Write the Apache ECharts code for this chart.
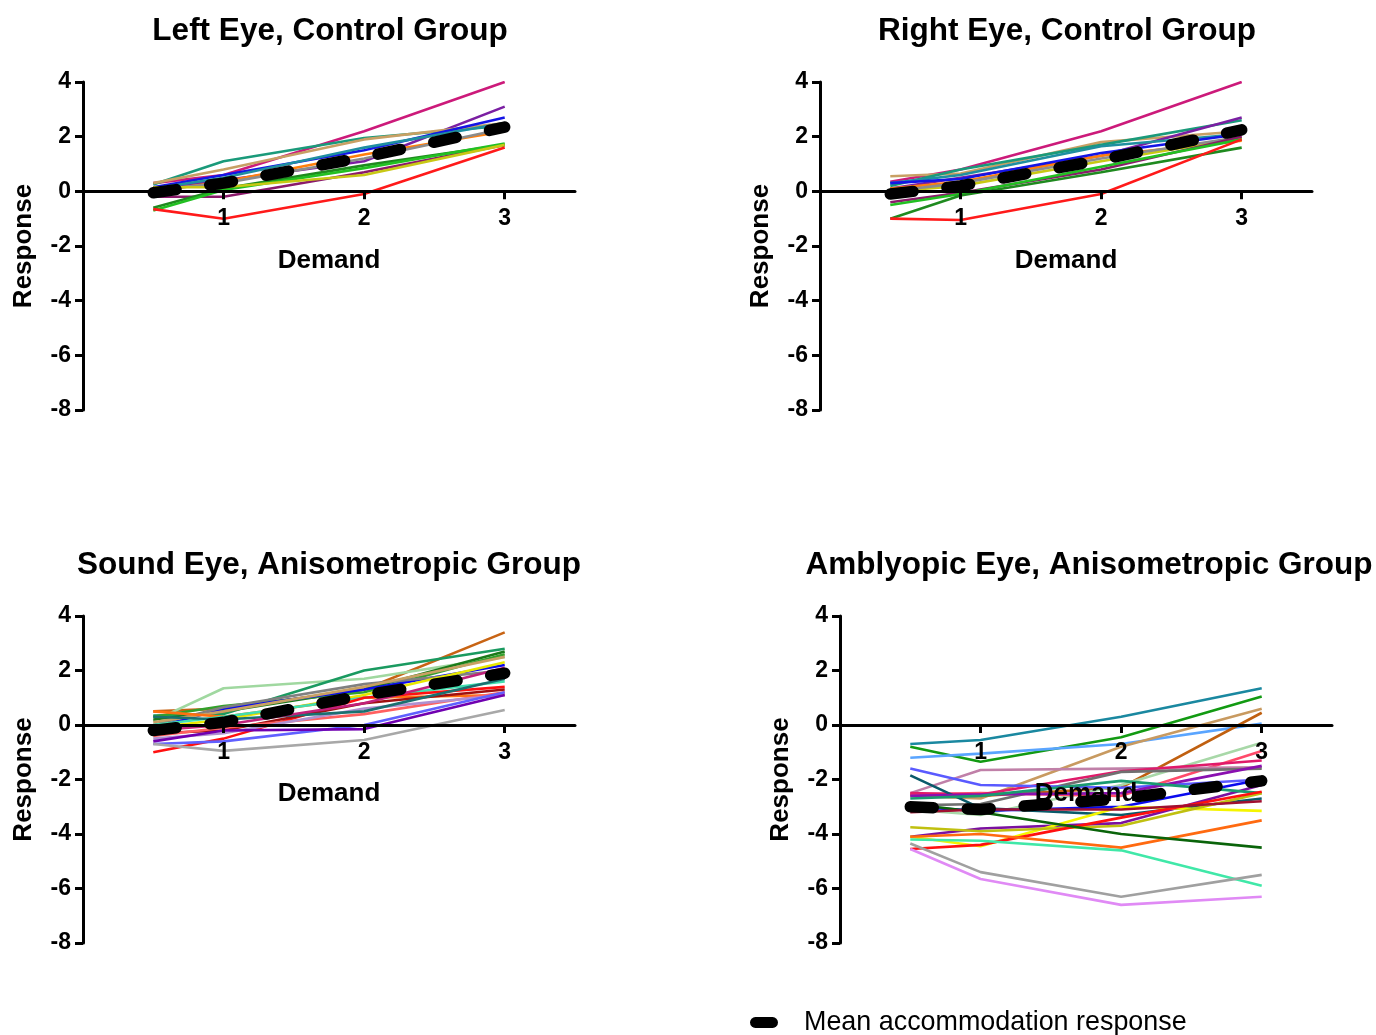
<!DOCTYPE html>
<html>
<head>
<meta charset="utf-8">
<script src="https://cdn.jsdelivr.net/npm/echarts@6/dist/echarts.min.js"></script>
<style>
html,body{margin:0;padding:0;background:#fff;}
#chart{width:1376px;height:1035px;}
</style>
</head>
<body>
<div id="chart"></div>
<script>
// ---------- data ----------
const demand = [0.5, 1, 2, 3];
const xTicks = [1, 2, 3];
const yTicks = [-8, -6, -4, -2, 0, 2, 4];
const yMin = -8, yMax = 4;

const panelTitles = [
  'Left Eye, Control Group',
  'Right Eye, Control Group',
  'Sound Eye, Anisometropic Group',
  'Amblyopic Eye, Anisometropic Group'
];
const xAxisTitle = 'Demand';
const yAxisTitle = 'Response';
const meanName = 'Mean accommodation response';

const leftEyeControl = [
  [0.3, 0.6, 2.2, 4.0],
  [0.1, 0.4, 1.1, 3.1],
  [-0.2, -0.2, 0.7, 1.7],
  [0.25, 1.1, 1.95, 2.4],
  [0.3, 0.8, 1.9, 2.5],
  [0.15, 0.6, 1.5, 2.7],
  [0.1, 0.5, 1.6, 2.5],
  [0.0, 0.35, 1.35, 2.2],
  [0.05, 0.3, 1.2, 2.3],
  [-0.6, 0.1, 0.95, 1.7],
  [-0.7, 0.05, 0.85, 1.75],
  [0.15, 0.15, 0.6, 1.7],
  [-0.65, -1.0, -0.1, 1.6]
];
const leftEyeControlMean = [-0.05, 0.3, 1.25, 2.35];

const rightEyeControl = [
  [0.35, 0.8, 2.2, 4.0],
  [0.55, 0.65, 1.8, 2.2],
  [0.2, 0.8, 1.7, 2.6],
  [0.1, 0.5, 1.3, 2.7],
  [0.3, 0.6, 1.65, 2.1],
  [0.3, 0.45, 1.4, 2.1],
  [0.1, 0.35, 1.3, 1.85],
  [0.0, 0.2, 1.1, 1.95],
  [0.0, 0.3, 1.2, 2.0],
  [-0.4, -0.05, 0.8, 2.0],
  [-0.5, -0.1, 0.9, 1.9],
  [-1.0, -0.15, 0.7, 1.6],
  [-1.0, -1.05, -0.1, 1.9]
];
const rightEyeControlMean = [-0.1, 0.2, 1.15, 2.25];

const soundEyeAniso = [
  [0.5, 0.6, 1.3, 3.4],
  [0.15, 1.35, 1.7, 2.5],
  [0.35, 0.4, 2.0, 2.8],
  [0.2, 0.5, 1.3, 2.7],
  [0.3, 0.7, 1.2, 2.6],
  [-0.1, 0.6, 1.3, 2.2],
  [0.0, 0.65, 1.5, 2.0],
  [0.1, 0.5, 1.4, 2.5],
  [-0.1, 0.2, 1.1, 2.3],
  [0.5, 0.3, 1.0, 1.1],
  [0.0, 0.3, 1.0, 1.6],
  [-1.0, -0.5, 1.0, 1.4],
  [-0.3, -0.2, 0.8, 1.3],
  [-0.4, -0.1, 0.4, 1.2],
  [-0.5, -0.3, 0.6, 1.1],
  [-0.7, -0.6, 0.0, 1.2],
  [-0.6, -0.2, -0.15, 1.1],
  [-0.7, -0.95, -0.55, 0.55],
  [0.3, 0.2, 0.5, 1.7],
  [-0.2, 0.0, 0.8, 2.1]
];
const soundEyeAnisoMean = [-0.2, 0.1, 1.1, 1.9];

const amblyopicEyeAniso = [
  [-0.7, -0.55, 0.3, 1.35],
  [-0.8, -1.35, -0.45, 1.05],
  [-1.2, -1.05, -0.7, 0.05],
  [-2.6, -2.7, -0.8, 0.6],
  [-2.55, -2.6, -2.3, 0.45],
  [-3.1, -3.3, -2.2, -0.65],
  [-2.55, -2.5, -2.6, -0.95],
  [-2.5, -1.65, -1.6, -1.55],
  [-2.5, -2.55, -1.7, -1.3],
  [-2.95, -2.9, -1.72, -1.6],
  [-1.6, -2.2, -2.3, -2.0],
  [-1.85, -3.05, -3.3, -2.7],
  [-2.6, -2.55, -2.5, -1.5],
  [-4.1, -3.8, -3.6, -2.2],
  [-3.0, -3.15, -3.0, -2.0],
  [-2.7, -2.6, -2.05, -2.5],
  [-4.1, -4.45, -3.0, -3.15],
  [-3.75, -3.9, -3.7, -2.5],
  [-4.55, -4.4, -3.4, -2.45],
  [-4.1, -4.0, -4.5, -3.5],
  [-2.9, -3.2, -4.0, -4.5],
  [-4.2, -4.25, -4.6, -5.9],
  [-4.35, -5.4, -6.3, -5.5],
  [-4.55, -5.65, -6.6, -6.3],
  [-3.2, -3.1, -3.1, -2.8]
];
const amblyopicEyeAnisoMean = [-3.0, -3.1, -2.7, -2.05];

// ---------- styles ----------
const controlColorsL = ['#cc1a7a','#7b1fa2','#8b1a6b','#1a9a7a','#c8a064','#1414e6','#1f8fa0','#ff7f0e','#8c8c8c','#1f8a1f','#22c022','#c8c814','#ff1a1a'];
const controlColorsR = ['#cc1a7a','#c8a064','#1a9a7a','#7b1fa2','#1f8fa0','#1414e6','#ff7f0e','#c8c814','#8c8c8c','#8b1a6b','#22c022','#1f8a1f','#ff1a1a'];
const soundColors = ['#c86414','#a0d8a0','#1a9a60','#1a7a1a','#33a02c','#0a0aee','#808080','#c8a064','#e8e800','#ff7010','#40e0b0','#ff1010','#a01010','#ff6060','#b090d0','#6060ff','#7000b0','#a8a8a8','#1a7070','#c0207a'];
const amblyColors = ['#1a88a0','#129a12','#5aa5ff','#c89a60','#c06010','#a8d8a8','#ff4a6a','#c080a8','#e01a6a','#707070','#5a5aff','#0a5a6a','#8a10b0','#7a10a0','#0a0aee','#1a9a70','#f5f500','#c0c010','#ff1010','#ff6a10','#0a640a','#40e8a8','#a0a0a0','#e08af5','#a01030'];

const panels = [
  {lines: leftEyeControl, mean: leftEyeControlMean, colors: controlColorsL, grid: {left: 83, top: 82, width: 492, height: 328}, titleX: 325, titleY: 10},
  {lines: rightEyeControl, mean: rightEyeControlMean, colors: controlColorsR, grid: {left: 820, top: 82, width: 492, height: 328}, titleX: 1062, titleY: 10},
  {lines: soundEyeAniso, mean: soundEyeAnisoMean, colors: soundColors, grid: {left: 83, top: 616, width: 492, height: 327}, titleX: 324, titleY: 544},
  {lines: amblyopicEyeAniso, mean: amblyopicEyeAnisoMean, colors: amblyColors, grid: {left: 840, top: 616, width: 492, height: 327}, titleX: 1084, titleY: 544}
];

const FONT = '"Liberation Sans", Arial, sans-serif';

const option = {
  animation: false,
  backgroundColor: '#fff',
  title: panels.map((p, i) => ({
    text: panelTitles[i],
    left: p.titleX,
    top: p.titleY,
    textAlign: 'center',
    textStyle: {fontFamily: FONT, fontWeight: 'bold', fontSize: 31.5, color: '#000'}
  })),
  grid: panels.map(p => Object.assign({containLabel: false}, p.grid)),
  xAxis: panels.map((p, i) => ({
    type: 'value',
    gridIndex: i,
    min: 0,
    max: 3.5,
    interval: 1,
    z: 3,
    // place the x axis where y = 0 crosses
    offset: -p.grid.height * (0 - yMin) / (yMax - yMin),
    name: xAxisTitle,
    nameLocation: 'middle',
    nameGap: 56,
    nameTextStyle: {fontFamily: FONT, fontWeight: 'bold', fontSize: 26, color: '#000'},
    axisLine: {show: true, onZero: false, lineStyle: {color: '#000', width: 3}},
    axisTick: {show: true, length: 8, lineStyle: {color: '#000', width: 3},
      customValues: xTicks},
    axisLabel: {show: true, margin: 16, fontFamily: FONT, fontWeight: 'bold', fontSize: 23, color: '#000',
      customValues: xTicks,
      formatter: v => (xTicks.indexOf(v) >= 0 ? String(v) : '')},
    splitLine: {show: false}
  })),
  yAxis: panels.map((p, i) => ({
    type: 'value',
    gridIndex: i,
    min: yMin,
    max: yMax,
    interval: 2,
    name: yAxisTitle,
    nameLocation: 'middle',
    nameGap: 46,
    nameTextStyle: {fontFamily: FONT, fontWeight: 'bold', fontSize: 26, color: '#000'},
    axisLine: {show: true, onZero: false, lineStyle: {color: '#000', width: 3}},
    axisTick: {show: true, length: 8, lineStyle: {color: '#000', width: 3}},
    axisLabel: {show: true, margin: 12, fontFamily: FONT, fontWeight: 'bold', fontSize: 23, color: '#000',
      formatter: v => (yTicks.indexOf(v) >= 0 ? String(v) : '')},
    splitLine: {show: false}
  })),
  legend: {
    left: 745,
    top: 1004,
    data: [{name: meanName, icon: 'path://M5,0 H21 A5,5 0 0 1 21,10 H5 A5,5 0 0 1 5,0 Z'}],
    itemWidth: 28,
    itemHeight: 11,
    selectedMode: false,
    textStyle: {fontFamily: FONT, fontSize: 26.9, color: '#000', padding: [0, 0, 0, 21]}
  },
  series: []
};

panels.forEach((p, i) => {
  p.lines.forEach((arr, j) => {
    option.series.push({
      type: 'line',
      xAxisIndex: i,
      yAxisIndex: i,
      data: demand.map((d, k) => [d, arr[k]]),
      symbol: 'none',
      silent: true,
      z: 2,
      lineStyle: {color: p.colors[j % p.colors.length], width: 2.6}
    });
  });
  option.series.push({
    name: meanName,
    type: 'line',
    xAxisIndex: i,
    yAxisIndex: i,
    data: demand.map((d, k) => [d, p.mean[k]]),
    symbol: 'none',
    silent: true,
    z: 5,
    itemStyle: {color: '#000'},
    lineStyle: {color: '#000', width: 11.5, type: [23, 34], cap: 'round'}
  });
});

const chart = echarts.init(document.getElementById('chart'), null, {renderer: 'canvas'});
chart.setOption(option);
</script>
</body>
</html>
